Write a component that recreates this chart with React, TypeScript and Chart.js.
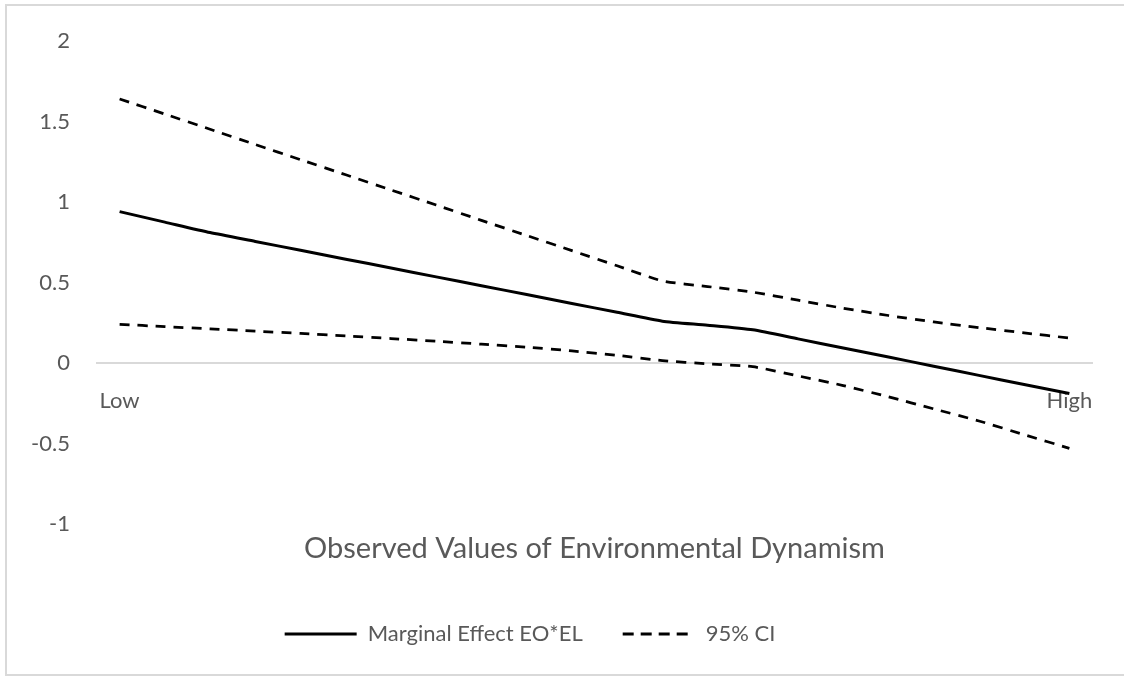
import React, { useEffect, useRef } from "react";
import { Chart, registerables } from "chart.js";

Chart.register(...registerables);

const categories: string[] = [
  "Low", "", "", "", "", "", "", "", "", "", "",
  "", "", "", "", "", "", "", "", "", "", "High",
];

const marginalEffect: number[] = [
  0.94, 0.875, 0.81, 0.755, 0.7, 0.645, 0.59, 0.535, 0.48, 0.425, 0.37,
  0.315, 0.26, 0.235, 0.206, 0.15, 0.093, 0.037, -0.02, -0.077, -0.133, -0.19,
];

const upperCI: number[] = [
  1.64, 1.546, 1.452, 1.357, 1.263, 1.169, 1.075, 0.981, 0.886, 0.792, 0.698,
  0.604, 0.51, 0.475, 0.44, 0.39, 0.34, 0.295, 0.255, 0.22, 0.187, 0.155,
];

const lowerCI: number[] = [
  0.24, 0.226, 0.212, 0.198, 0.184, 0.168, 0.152, 0.135, 0.117, 0.098, 0.075,
  0.048, 0.015, -0.005, -0.023, -0.08, -0.14, -0.21, -0.285, -0.36, -0.445, -0.53,
];

const yTickValues: number[] = [-1, -0.5, 0, 0.5, 1, 1.5, 2];

const seriesLabels: string[] = ["Marginal Effect EO*EL", "95% CI"];
const xAxisTitle = "Observed Values of Environmental Dynamism";

const TEXT = "#595959";
const FONT = "Lato";
const DASH = [10, 8];

export default function App() {
  const canvasRef = useRef<HTMLCanvasElement | null>(null);

  useEffect(() => {
    const canvas = canvasRef.current;
    if (!canvas) return;
    const chart = new Chart(canvas, {
      type: "line",
      data: {
        labels: categories,
        datasets: [
          {
            label: seriesLabels[0],
            data: marginalEffect,
            borderColor: "#000000",
            borderWidth: 3,
            pointRadius: 0,
            tension: 0.2,
            fill: false,
          },
          {
            label: seriesLabels[1],
            data: upperCI,
            borderColor: "#000000",
            borderWidth: 2.75,
            borderDash: DASH,
            pointRadius: 0,
            tension: 0.2,
            fill: false,
          },
          {
            label: seriesLabels[1] + " lower",
            data: lowerCI,
            borderColor: "#000000",
            borderWidth: 2.75,
            borderDash: DASH,
            pointRadius: 0,
            tension: 0.2,
            fill: false,
          },
        ],
      },
      options: {
        animation: false,
        responsive: false,
        events: [],
        layout: { padding: { left: -32, right: 32, top: 41, bottom: 22 } },
        scales: {
          x: {
            type: "category",
            position: { y: 0 } as any,
            offset: true,
            grid: { display: false, drawTicks: false },
            border: { display: true, color: "#d9d9d9", width: 2 },
            ticks: {
              autoSkip: false,
              maxRotation: 0,
              minRotation: 0,
              padding: 25,
              color: TEXT,
              font: { family: FONT, size: 22 },
            },
          },
          y: {
            type: "linear",
            min: -1,
            max: 2,
            grid: { display: false, drawTicks: false },
            border: { display: false },
            afterBuildTicks: (scale: any) => {
              scale.ticks = yTickValues.map((v) => ({ value: v }));
            },
            afterFit: (scale: any) => {
              scale.width = 129;
            },
            ticks: {
              padding: 27,
              color: TEXT,
              font: { family: FONT, size: 22 },
              callback: (v: any) => String(v),
            },
          },
        },
        plugins: {
          tooltip: { enabled: false },
          title: {
            display: true,
            text: xAxisTitle,
            position: "bottom",
            fullSize: false,
            weight: 500,
            color: TEXT,
            font: { family: FONT, size: 29, weight: "normal" },
            padding: { top: 7.6, bottom: 16.6 },
          },
          legend: {
            display: true,
            position: "bottom",
            weight: 1000,
            labels: {
              usePointStyle: true,
              pointStyleWidth: 72,
              padding: 40,
              color: TEXT,
              font: { family: FONT, size: 22 },
              generateLabels: () =>
                seriesLabels.map((text, i) => ({
                  text,
                  fillStyle: "#000000",
                  strokeStyle: "#000000",
                  lineWidth: 3,
                  lineDash: i === 0 ? [] : [11, 7],
                  pointStyle: "line",
                  hidden: false,
                  fontColor: TEXT,
                  datasetIndex: i,
                })),
            },
          },
        },
      } as any,
    });
    return () => chart.destroy();
  }, []);

  return (
    <div style={{ position: "absolute", left: 0, top: 0, width: 1124, height: 677, background: "#ffffff", overflow: "hidden" }}>
      <div
        style={{
          position: "absolute",
          left: 5,
          top: 4,
          width: 1119,
          height: 672,
          boxSizing: "border-box",
          borderLeft: "2px solid #d9d9d9",
          borderTop: "2px solid #d9d9d9",
          borderBottom: "2px solid #d9d9d9",
        }}
      />
      <canvas
        ref={canvasRef}
        width={1124}
        height={677}
        style={{ position: "absolute", left: 0, top: 0, width: 1124, height: 677 }}
      />
    </div>
  );
}
